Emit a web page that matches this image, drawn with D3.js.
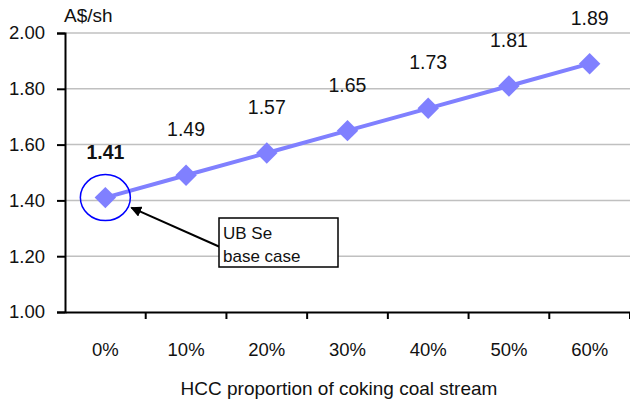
<!DOCTYPE html>
<html>
<head>
<meta charset="utf-8">
<script src="https://cdn.jsdelivr.net/npm/d3@7"></script>
<style>
  body { margin: 0; background: #fff; }
  text { font-family: "Liberation Sans", Arial, sans-serif; fill: #111; }
</style>
</head>
<body>
<svg id="chart" width="630" height="406"></svg>
<script>
const categories = ["0%", "10%", "20%", "30%", "40%", "50%", "60%"];
const values = [1.41, 1.49, 1.57, 1.65, 1.73, 1.81, 1.89];
const yTicks = [1.00, 1.20, 1.40, 1.60, 1.80, 2.00];

const svg = d3.select("#chart");
const plotLeft = 65, plotRight = 630, plotTop = 33, plotBottom = 312;

const x = d3.scaleBand().domain(categories).range([plotLeft, plotRight]);
const y = d3.scaleLinear().domain([1, 2]).range([plotBottom, plotTop]);

// gridlines
svg.append("g").selectAll("line")
    .data(yTicks.slice(1))
    .enter().append("line")
    .attr("x1", plotLeft).attr("x2", plotRight)
    .attr("y1", d => y(d)).attr("y2", d => y(d))
    .attr("stroke", "#c0c0c0").attr("stroke-width", 1.5);

// y axis
const yAxis = svg.append("g")
    .attr("transform", `translate(${plotLeft},0)`)
    .call(d3.axisLeft(y).tickValues(yTicks).tickFormat(d3.format(".2f")).tickSize(8).tickPadding(12));
yAxis.select(".domain").attr("stroke", "#000").attr("stroke-width", 2);
yAxis.selectAll(".tick line").attr("stroke", "#000").attr("stroke-width", 2);
yAxis.selectAll("text").attr("font-size", 18.5).attr("font-family", null).attr("fill", "#111");

// x axis (ticks between categories)
const xAxis = svg.append("g")
    .attr("transform", `translate(0,${plotBottom})`)
    .call(d3.axisBottom(x).tickSize(0).tickPadding(31));
xAxis.select(".domain").attr("stroke", "#000").attr("stroke-width", 2);
xAxis.selectAll("text").attr("font-size", 18.5).attr("font-family", null).attr("fill", "#111");
xAxis.selectAll(".sep")
    .data(categories)
    .enter().append("line")
    .attr("class", "sep")
    .attr("x1", d => x(d) + x.bandwidth()).attr("x2", d => x(d) + x.bandwidth())
    .attr("y1", 0).attr("y2", 7)
    .attr("stroke", "#000").attr("stroke-width", 2);

// axis titles
svg.append("text")
    .attr("x", 64).attr("y", 22)
    .attr("font-size", 19)
    .text("A$/sh");

svg.append("text")
    .attr("x", 339).attr("y", 395)
    .attr("text-anchor", "middle")
    .attr("font-size", 19)
    .text("HCC proportion of coking coal stream");

// series
const cx = (d, i) => x(categories[i]) + x.bandwidth() / 2;
const line = d3.line().x((d, i) => cx(d, i)).y(d => y(d));

svg.append("path")
    .datum(values)
    .attr("d", line)
    .attr("fill", "none")
    .attr("stroke", "#8080ff")
    .attr("stroke-width", 4);

svg.append("g").selectAll("path")
    .data(values)
    .enter().append("path")
    .attr("d", d3.symbol().type(d3.symbolSquare).size(230))
    .attr("transform", (d, i) => `translate(${cx(d, i)},${y(d)}) rotate(45)`)
    .attr("fill", "#8080ff");

svg.append("g").selectAll("text")
    .data(values)
    .enter().append("text")
    .attr("x", (d, i) => cx(d, i))
    .attr("y", d => y(d) - 39)
    .attr("text-anchor", "middle")
    .attr("font-size", 19.5)
    .attr("font-weight", (d, i) => i === 0 ? "bold" : "normal")
    .text(d => d.toFixed(2));

// annotation
const bx = cx(values[0], 0), by = y(values[0]);
svg.append("ellipse")
    .attr("cx", bx).attr("cy", by)
    .attr("rx", 25).attr("ry", 23)
    .attr("fill", "none")
    .attr("stroke", "#0000ff")
    .attr("stroke-width", 1.5);

svg.append("defs").append("marker")
    .attr("id", "arrow")
    .attr("viewBox", "0 0 10 10")
    .attr("refX", 9).attr("refY", 5)
    .attr("markerWidth", 5.5).attr("markerHeight", 5.5)
    .attr("orient", "auto")
    .append("path")
    .attr("d", "M0,0 L10,5 L0,10 Z")
    .attr("fill", "#000");

svg.append("line")
    .attr("x1", 220).attr("y1", 247)
    .attr("x2", bx + 26).attr("y2", by + 10)
    .attr("stroke", "#000").attr("stroke-width", 2)
    .attr("marker-end", "url(#arrow)");

svg.append("rect")
    .attr("x", 219).attr("y", 218)
    .attr("width", 119).attr("height", 49)
    .attr("fill", "#fff")
    .attr("stroke", "#000").attr("stroke-width", 1.5);

svg.append("text")
    .attr("x", 223).attr("y", 239)
    .attr("font-size", 17)
    .text("UB Se");
svg.append("text")
    .attr("x", 223).attr("y", 262)
    .attr("font-size", 17)
    .text("base case");
</script>
</body>
</html>
